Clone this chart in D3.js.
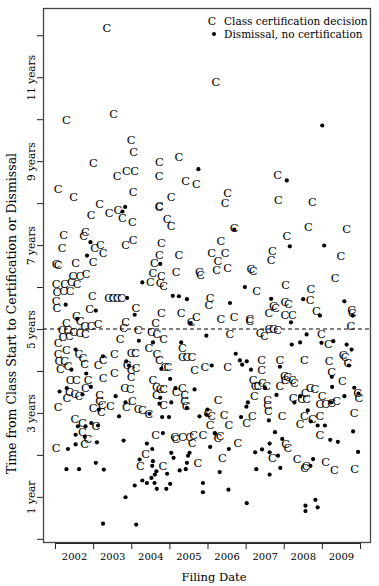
<!DOCTYPE html>
<html><head><meta charset="utf-8">
<script src="https://cdn.jsdelivr.net/npm/d3@7/dist/d3.min.js"></script>
<style>
html,body{margin:0;padding:0;background:#fff;}
svg{display:block;font-family:"DejaVu Serif",serif;}
</style></head>
<body><svg id="chart" width="379" height="586"></svg>
<script>
// ---- data ----
const yearTicks = [2002,2003,2004,2005,2006,2007,2008,2009,2010];
const yearLabels = ["2002","2003","2004","2005","2006","2007","2008","2009"];
const timeTicks = [0,1,2,3,4,5,6,7,8,9,10,11,12];
const timeLabels = ["","1 year","","3 years","","5 years","","7 years","","9 years","","11 years",""];
const legendLabels = ["Class certification decision","Dismissal, no certification"];
const referenceLine = 5;

// [filing year, years from class start to certification]
const certifications = [
[2003.36,12.18],[2006.22,10.89],
[2002.30,9.99],[2003.54,10.13],[2004.00,9.50],[2004.06,9.21],[2005.25,9.11],[2004.74,8.99],[2003.01,8.96],
[2003.63,8.64],[2003.87,8.76],[2004.09,8.77],[2004.73,8.64],[2005.43,8.52],[2005.71,8.46],[2002.08,8.34],
[2002.49,8.15],[2004.05,8.27],[2005.05,8.14],[2004.74,7.94],[2004.73,7.91],[2003.17,7.98],[2002.95,7.72],
[2003.42,7.76],[2003.65,7.84],[2003.77,7.64],[2004.03,7.54],[2004.94,7.62],[2005.05,7.46],[2002.23,7.25],
[2002.80,7.30],[2002.75,7.21],[2003.04,6.93],[2003.19,6.99],[2003.26,6.80],[2003.85,6.99],[2004.05,7.11],
[2004.79,7.05],[2002.19,6.93],[2004.74,6.77],[2004.61,6.57],[2005.25,6.77],[2002.03,6.55],[2002.08,6.53],
[2002.54,6.57],[2003.00,6.59],[2002.47,6.26],[2002.65,6.26],[2002.82,6.32],[2004.57,6.34],[2004.79,6.26],
[2005.18,6.35],[2005.79,6.35],[2005.82,6.28],
[2007.84,8.66],[2006.53,8.24],[2006.46,8.00],[2007.86,8.07],[2008.75,8.02],[2006.70,7.41],[2008.65,7.43],
[2009.65,7.38],[2008.08,7.22],[2006.35,7.09],[2006.11,6.81],[2006.46,6.81],[2006.27,6.61],[2006.24,6.41],
[2006.53,6.45],[2007.70,6.85],[2007.67,6.64],[2009.50,6.74],[2007.14,6.43],[2007.20,6.38],[2009.35,6.22],
[2002.03,6.08],[2002.05,5.87],[2002.25,6.08],[2002.43,6.11],[2002.58,6.08],[2002.23,5.90],[2002.40,5.90],
[2004.50,6.11],[2004.76,6.10],[2004.85,6.02],[2002.98,5.79],[2003.41,5.73],[2003.52,5.73],[2003.63,5.73],
[2003.74,5.73],[2002.03,5.66],[2002.05,5.50],[2002.91,5.48],[2004.12,5.50],[2004.79,5.37],[2005.31,5.37],
[2005.71,5.29],[2005.57,5.16],[2002.56,5.32],[2002.66,5.18],[2002.78,5.08],[2002.95,5.08],[2003.13,5.13],
[2002.30,5.14],[2002.19,4.98],[2002.34,4.97],[2002.49,4.92],[2002.65,4.91],[2002.80,4.89],[2002.21,4.81],
[2002.38,4.84],[2002.08,4.67],[2003.85,5.16],[2003.80,5.02],[2004.18,4.97],[2003.71,4.76],[2004.64,5.14],
[2004.53,4.94],[2004.67,4.89],[2004.85,4.76],[2004.46,4.55],[2002.30,4.51],[2002.63,4.41],[2002.73,4.31],
[2002.78,4.17],[2002.08,4.41],[2002.10,4.23],[2002.14,4.05],[2002.25,4.23],[2002.34,4.11],[2003.56,4.41],
[2003.26,4.27],[2003.13,4.15],[2004.00,4.43],[2004.11,4.43],[2005.34,4.55],[2005.34,4.33],[2005.46,4.33],
[2005.59,4.33],[2004.67,4.41],[2004.74,4.26],[2004.88,4.10],[2004.96,4.10],[2003.89,4.15],[2004.00,4.03],
[2004.13,4.07],[2003.26,3.83],[2003.56,3.94],[2004.00,3.86],[2005.66,4.02],[2002.40,3.79],[2002.56,3.79],
[2002.87,3.78],[2002.38,3.51],[2002.52,3.46],[2002.63,3.40],[2002.80,3.59],[2002.08,3.14],[2002.31,3.36],
[2003.83,3.59],[2003.98,3.56],[2003.17,3.43],[2003.17,3.28],[2003.24,3.18],[2003.22,3.02],[2003.00,3.12],
[2003.45,3.16],[2003.87,3.14],[2004.03,3.28],[2004.18,3.10],[2004.29,3.08],[2004.46,2.98],[2004.57,3.79],
[2004.66,3.62],[2004.76,3.56],[2004.85,3.56],[2004.66,3.43],[2004.85,3.18],[2005.18,3.51],[2005.34,3.59],
[2005.40,3.43],[2005.40,3.28],[2005.44,3.16],[2002.52,2.86],[2002.72,2.76],[2003.07,2.68],
[2007.29,5.90],[2008.05,6.06],[2008.71,5.95],[2006.07,5.74],[2006.04,5.58],[2007.73,5.54],[2007.79,5.50],
[2007.61,5.38],[2008.03,5.64],[2008.12,5.60],[2008.69,5.70],[2009.78,5.45],[2009.80,5.38],[2008.86,5.42],
[2006.35,5.24],[2006.70,5.29],[2007.11,5.24],[2007.11,5.18],[2008.03,5.34],[2008.23,5.34],[2009.76,5.07],
[2007.38,4.91],[2007.49,4.83],[2007.61,4.99],[2007.73,5.00],[2007.84,4.97],[2006.59,4.89],[2008.99,4.89],
[2009.17,4.65],[2009.56,4.39],[2009.61,4.34],[2006.53,4.09],[2005.93,4.10],[2007.42,4.26],[2007.42,4.03],
[2007.90,4.26],[2008.54,4.26],[2009.19,4.24],[2009.26,3.97],[2009.68,4.19],[2009.54,3.75],[2007.20,3.79],
[2007.25,3.65],[2007.32,3.63],[2007.44,3.71],[2007.55,3.63],[2008.02,3.87],[2008.10,3.85],[2008.23,3.79],
[2008.28,3.71],[2008.04,3.79],[2007.90,3.63],[2009.94,3.48],[2009.97,3.36],[2008.56,3.47],[2008.69,3.60],
[2008.82,3.57],[2008.25,3.36],[2008.47,3.33],[2008.60,3.33],[2009.01,3.40],[2008.95,3.22],[2009.10,3.22],
[2009.26,3.24],[2009.39,3.28],[2006.28,3.30],[2007.23,3.40],[2007.58,3.30],[2007.58,3.18],[2007.60,3.04],
[2007.96,2.92],[2006.02,3.00],[2006.11,2.92],[2006.07,2.72],[2006.44,2.96],[2006.56,2.72],[2007.03,2.76],
[2007.18,2.92],[2008.43,2.74],[2008.54,2.92],[2008.75,2.86],[2008.95,2.92],[2009.85,3.01],[2008.95,2.48],
[2006.33,2.44],
[2002.72,2.54],[2002.86,2.38],[2002.03,2.16],[2002.78,2.27],[2004.64,2.48],[2004.38,2.01],[2004.24,1.74],
[2004.83,1.74],[2005.14,2.43],[2005.17,2.37],[2005.34,2.43],[2005.53,2.43],[2005.64,2.48],[2005.88,2.48],
[2005.60,2.28],[2005.75,1.81],[2006.27,2.40],[2006.80,2.28],[2006.39,1.93],[2007.70,1.93],[2008.05,2.25],
[2008.11,2.17],[2008.35,1.89],[2008.55,1.69],[2008.59,1.74],[2009.10,1.82],[2009.33,1.65],[2009.86,1.66]
];

// [filing year, years from class start to dismissal]
const dismissals = [
[2005.76,8.81],[2003.84,7.91],[2003.77,7.80],[2002.93,7.07],[2004.76,6.55],[2002.84,6.75],[2009.01,9.85],
[2008.08,8.54],[2006.70,7.37],[2008.16,6.97],[2009.06,6.99],
[2004.29,6.11],[2003.89,5.74],[2005.09,5.79],[2005.25,5.78],[2005.46,5.71],[2002.28,5.58],[2003.07,5.44],
[2004.09,5.34],[2005.56,5.14],[2002.58,5.24],[2004.20,4.72],[2004.57,4.68],[2005.97,4.84],[2002.54,4.51],
[2002.43,4.03],[2003.26,4.35],[2005.31,4.68],[2004.79,4.05],[2003.87,4.23],[2003.94,4.13],[2005.02,3.81],
[2002.82,3.94],[2002.12,3.51],[2002.31,3.59],[2002.94,3.62],[2002.72,3.44],[2003.59,3.40],[2003.15,3.08],
[2003.68,2.92],[2003.85,3.25],[2004.48,2.98],[2004.76,3.36],[2004.74,3.22],[2005.05,3.25],[2004.81,2.90],
[2004.99,2.90],[2005.16,3.59],[2005.66,3.56],[2005.79,2.92],[2005.97,2.96],[2002.80,2.68],[2002.95,2.76],
[2003.13,2.70],[2002.60,2.68],[2005.46,3.12],
[2006.98,6.00],[2006.59,5.62],[2007.67,5.72],[2008.51,5.71],[2009.59,5.66],[2009.81,5.32],[2008.95,5.32],
[2008.19,5.16],[2008.60,4.87],[2008.99,4.67],[2009.30,4.71],[2008.21,4.63],[2008.43,4.68],[2009.65,4.63],
[2009.78,4.51],[2006.74,4.41],[2006.11,4.13],[2006.85,4.25],[2006.91,4.15],[2007.03,4.23],[2007.14,4.03],
[2007.90,4.10],[2009.26,3.86],[2009.71,4.13],[2007.51,3.59],[2007.81,3.43],[2009.27,3.62],[2009.85,3.60],
[2009.96,3.46],[2008.43,3.40],[2008.28,3.25],[2009.24,3.25],[2009.59,3.40],[2007.61,2.82],[2006.00,3.08],
[2006.88,2.90],[2008.63,3.06],[2008.71,2.80],[2008.89,2.70],[2009.08,2.70],[2007.77,2.54],[2009.82,2.56],
[2007.96,2.38],[2006.20,2.51],[2007.06,3.25],[2007.02,3.15],
[2002.54,2.48],[2002.78,2.43],[2002.34,2.14],[2002.54,2.25],[2003.10,2.30],[2003.80,2.34],[2004.41,2.27],
[2004.55,2.14],[2004.83,2.52],[2004.22,1.89],[2004.57,1.85],[2004.55,1.74],[2004.66,1.61],[2004.62,1.53],
[2004.94,1.55],[2004.53,1.45],[2004.41,1.33],[2004.29,1.39],[2004.61,1.33],[2004.09,1.27],[2004.67,1.19],
[2004.92,1.19],[2005.02,1.31],[2003.85,0.99],[2003.26,0.36],[2004.13,0.34],[2002.30,1.66],[2002.63,1.66],
[2003.07,1.81],[2003.28,1.65],[2005.05,2.05],[2005.11,1.93],[2005.27,1.63],[2005.43,1.66],[2005.49,1.98],
[2005.53,2.05],[2005.46,1.81],[2006.07,2.19],[2006.19,2.52],[2006.56,2.14],[2006.32,1.59],[2005.88,1.33],
[2005.88,1.11],[2006.55,1.17],[2007.03,0.85],[2007.25,2.06],[2007.43,2.13],[2007.63,2.27],[2007.63,2.06],
[2007.85,1.98],[2007.28,1.66],[2007.63,1.53],[2007.91,1.69],[2008.70,1.74],[2008.77,1.90],[2009.22,2.36],
[2009.42,2.31],[2009.95,2.07],[2008.57,0.79],[2008.57,0.66],[2008.83,0.93],[2008.89,0.75]
];

// ---- layout ----
const svg = d3.select("#chart");
const L = 43, R = 371, T = 8, B = 543;
const x = d3.scaleLinear().domain([2001.685, 2010.289]).range([L, R]);
const y = d3.scaleLinear().domain([-0.1, 12.65]).range([B, T]);

// x axis ticks (year boundaries) and labels (mid-year)
const xAxis = svg.append("g").attr("transform", `translate(0,${B})`)
  .call(d3.axisBottom(x).tickValues(yearTicks).tickSize(6).tickFormat(""));
xAxis.select(".domain").attr("d", `M${x(2002)},0.5H${x(2010)}`).attr("stroke", "#222");
xAxis.selectAll(".tick line").attr("stroke", "#222");

svg.append("g").attr("transform", `translate(0,${B})`)
  .call(d3.axisBottom(x).tickValues(yearLabels.map(d => +d + 0.5)).tickSize(0).tickPadding(10)
    .tickFormat((d, i) => yearLabels[i]))
  .call(g => g.select(".domain").remove())
  .selectAll("text").attr("font-family", "DejaVu Serif").attr("font-size", 10).attr("fill", "#000");

// y axis
const yAxis = svg.append("g").attr("transform", `translate(${L},0)`)
  .call(d3.axisLeft(y).tickValues(timeTicks).tickSize(6).tickFormat((d, i) => timeLabels[i]));
yAxis.select(".domain").attr("d", `M0.5,${y(0)}V${y(12)}`).attr("stroke", "#222");
yAxis.selectAll(".tick line").attr("stroke", "#222");
yAxis.selectAll(".tick text")
  .attr("font-family", "DejaVu Serif").attr("font-size", 10.5).attr("fill", "#000")
  .attr("x", null).attr("dy", null).attr("text-anchor", "middle")
  .attr("transform", "translate(-8,0) rotate(-90)");

// plot box
svg.append("rect").attr("x", L + 0.5).attr("y", T + 0.5).attr("width", R - L - 1).attr("height", B - T - 1)
  .attr("fill", "none").attr("stroke", "#444").attr("stroke-width", 1.3);

// dashed reference line
svg.append("line").attr("x1", L).attr("x2", R).attr("y1", y(referenceLine)).attr("y2", y(referenceLine))
  .attr("stroke", "#000").attr("stroke-dasharray", "4,3").attr("stroke-width", 1);

// points
svg.append("g").selectAll("text").data(certifications).join("text")
  .attr("x", d => x(d[0])).attr("y", d => y(d[1]))
  .attr("text-anchor", "middle").attr("dominant-baseline", "central")
  .attr("font-family", "DejaVu Serif").attr("font-size", 11.5).attr("fill", "#000").text("C");

svg.append("g").selectAll("circle").data(dismissals).join("circle")
  .attr("cx", d => x(d[0])).attr("cy", d => y(d[1])).attr("r", 2.1).attr("fill", "#000");

// axis titles
svg.append("text").attr("x", (L + R) / 2 + 7).attr("y", 581).attr("text-anchor", "middle")
  .attr("font-family", "DejaVu Serif").attr("font-size", 11.5).attr("fill", "#000").text("Filing Date");
svg.append("text").attr("transform", `translate(16,${(T + B) / 2 + 38}) rotate(-90)`).attr("text-anchor", "middle")
  .attr("font-family", "DejaVu Serif").attr("font-size", 12.5).attr("fill", "#000")
  .text("Time from Class Start to Certification or Dismissal");

// legend
const lg = svg.append("g");
lg.append("text").attr("x", 212).attr("y", 21).attr("text-anchor", "middle").attr("dominant-baseline", "central")
  .attr("font-family", "DejaVu Serif").attr("font-size", 11).text("C");
lg.append("circle").attr("cx", 214).attr("cy", 34).attr("r", 2).attr("fill", "#000");
lg.selectAll("text.lab").data(legendLabels).join("text").attr("class", "lab")
  .attr("x", 224).attr("y", (d, i) => 21 + i * 13).attr("dominant-baseline", "central")
  .attr("font-family", "DejaVu Serif").attr("font-size", 10.5).attr("fill", "#000").text(d => d);
</script></body></html>
